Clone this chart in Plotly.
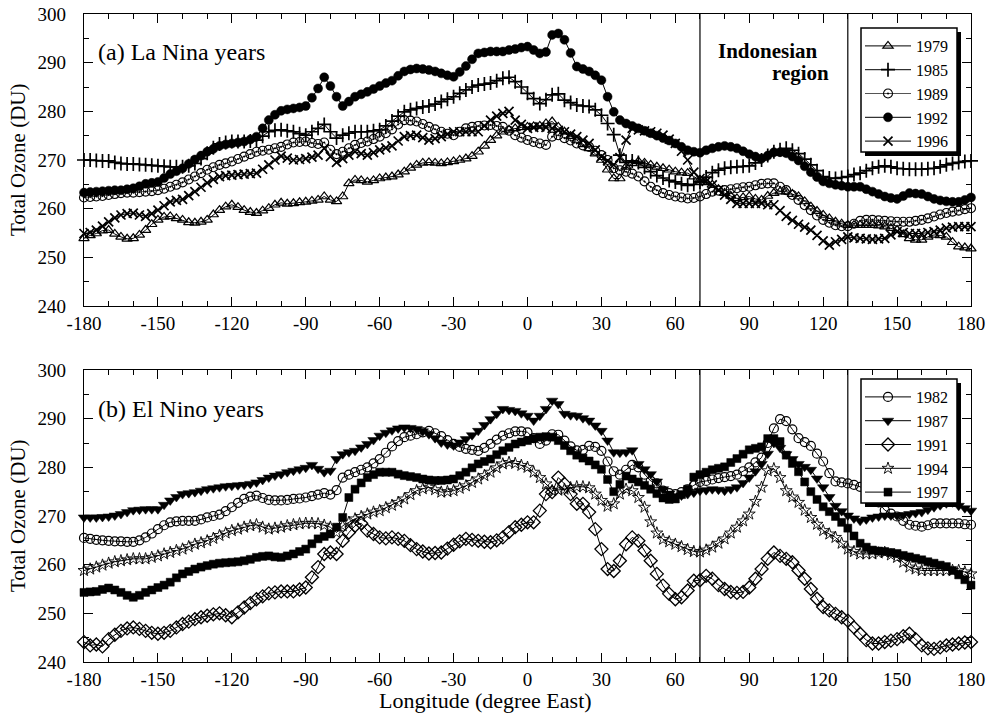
import plotly.graph_objects as go

# ---------------- data (Total ozone, DU) ----------------
LON_START = -180.0
LON_STEP = 2.5
N_PTS = 145
lon = [LON_START + LON_STEP * i for i in range(N_PTS)]

x_tick_vals = [-180, -150, -120, -90, -60, -30, 0, 30, 60, 90, 120, 150, 180]
x_tick_text = ["-180", "-150", "-120", "-90", "-60", "-30", "0", "30", "60", "90", "120", "150", "180"]
y_tick_vals = [240, 250, 260, 270, 280, 290, 300]
y_tick_text = ["240", "250", "260", "270", "280", "290", "300"]

# (a) La Nina years
y1979 = [253.9, 254.5, 254.9, 255.5, 255.6, 254.8, 254.2, 253.8, 253.9, 254.6, 255.6, 256.8,
         257.7, 258.3, 258.4, 258.0, 257.7, 257.2, 257.1, 257.3, 257.7, 258.8, 259.7, 260.4,
         260.8, 260.3, 259.7, 259.3, 259.1, 259.6, 260.1, 260.8, 261.2, 261.0, 261.1, 261.3,
         261.4, 261.6, 261.8, 262.5, 261.8, 261.5, 262.5, 265.2, 265.9, 265.8, 265.5, 265.8,
         266.2, 266.4, 266.6, 267.0, 267.6, 268.4, 269.0, 269.4, 269.5, 269.4, 269.3, 269.5,
         269.7, 270.0, 270.3, 270.8, 271.7, 272.9, 274.1, 275.0, 275.8, 276.2, 276.5, 276.7,
         276.8, 276.9, 277.0, 277.5, 277.9, 276.8, 275.8, 274.9, 274.1, 273.2, 272.4, 271.3,
         270.0, 268.0, 266.2, 266.2, 268.6, 269.3, 269.7, 269.4, 269.0, 268.6, 268.3, 268.0,
         267.6, 267.4, 267.3, 266.6, 265.9, 265.4, 264.9, 264.0, 263.2, 262.6, 262.1, 262.3,
         262.5, 262.0, 261.8, 262.6, 263.2, 263.5, 263.5, 263.0, 262.5, 261.5, 260.4, 259.5,
         258.7, 258.0, 257.3, 256.9, 256.6, 256.6, 256.6, 256.6, 256.6, 256.5, 256.3, 256.0,
         255.6, 254.7, 253.9, 253.6, 253.6, 254.2, 254.6, 254.5, 254.2, 253.1, 252.2, 252.0,
         251.8]
y1985 = [270.0, 270.0, 269.9, 269.8, 269.8, 269.5, 269.3, 269.2, 269.2, 269.1, 269.0, 268.9,
         268.8, 268.7, 268.6, 268.6, 268.6, 268.8, 269.3, 270.3, 271.4, 272.5, 273.3, 273.6,
         273.8, 273.8, 273.8, 273.9, 274.1, 274.9, 275.8, 276.1, 276.2, 276.0, 275.8, 275.4,
         275.1, 275.8, 276.5, 277.3, 275.8, 274.5, 275.1, 275.5, 275.8, 275.8, 275.8, 276.0,
         276.2, 277.0, 278.0, 279.0, 279.9, 280.3, 280.6, 280.9, 281.1, 281.5, 282.0, 282.5,
         283.0, 283.7, 284.4, 285.0, 285.4, 285.6, 285.8, 286.3, 286.8, 287.0, 286.1, 285.0,
         283.7, 282.6, 281.6, 282.4, 283.4, 283.6, 282.3, 281.8, 281.3, 281.1, 281.0, 280.3,
         279.2, 277.5, 275.2, 271.0, 269.5, 269.8, 269.5, 268.5, 267.6, 266.8, 266.3, 265.8,
         265.5, 265.1, 264.8, 265.0, 265.5, 266.5, 267.4, 267.9, 268.3, 268.5, 268.6, 268.7,
         268.8, 269.4, 270.0, 270.9, 271.7, 272.1, 272.4, 272.0, 271.3, 270.2, 269.0, 267.8,
         266.6, 266.3, 266.2, 266.4, 266.6, 267.0, 267.3, 267.8, 268.3, 268.6, 268.8, 268.6,
         268.3, 268.2, 268.1, 268.1, 268.1, 268.2, 268.3, 268.6, 269.0, 269.3, 269.5, 269.7,
         269.8]
y1989 = [262.3, 262.4, 262.5, 262.6, 262.8, 263.0, 263.2, 263.3, 263.3, 263.4, 263.5, 263.6,
         263.8, 264.1, 264.5, 264.9, 265.4, 266.0, 266.6, 267.3, 268.0, 268.5, 269.0, 269.3,
         269.7, 270.2, 270.7, 271.2, 271.7, 271.9, 272.1, 272.4, 272.7, 273.2, 273.6, 273.7,
         273.8, 273.5, 273.3, 273.6, 272.1, 271.2, 271.7, 272.4, 273.1, 273.5, 273.8, 274.3,
         274.8, 275.5, 276.3, 277.3, 278.2, 278.1, 277.9, 277.4, 276.8, 276.3, 275.8, 275.4,
         275.1, 275.8, 276.5, 276.8, 277.0, 277.1, 277.2, 277.0, 276.8, 276.0, 275.1, 274.6,
         274.1, 273.7, 273.4, 273.1, 274.8, 275.1, 274.5, 274.0, 273.4, 273.0, 272.7, 271.9,
         271.0, 270.0, 268.3, 267.9, 267.6, 267.2, 266.6, 265.6, 264.5, 263.8, 263.2, 262.8,
         262.5, 262.3, 262.1, 262.2, 262.5, 263.0, 263.5, 263.7, 263.8, 264.0, 264.2, 264.4,
         264.5, 264.8, 265.1, 265.2, 265.2, 264.5, 263.8, 262.8, 261.8, 260.7, 259.7, 258.6,
         257.7, 257.1, 256.6, 256.4, 256.4, 256.9, 257.5, 257.7, 257.7, 257.6, 257.5, 257.4,
         257.3, 257.3, 257.3, 257.5, 257.7, 258.0, 258.4, 258.8, 259.1, 259.4, 259.6, 259.9,
         260.1]
y1992 = [263.3, 263.4, 263.5, 263.6, 263.7, 263.8, 263.8, 264.0, 264.2, 264.6, 265.1, 265.3,
         265.5, 266.3, 267.1, 267.7, 268.3, 269.2, 270.1, 270.9, 271.7, 272.3, 272.9, 273.2,
         273.4, 273.6, 273.8, 274.2, 274.8, 276.5, 278.2, 279.3, 280.1, 280.4, 280.6, 280.8,
         281.1, 282.8, 284.7, 287.0, 285.2, 283.0, 281.1, 282.0, 283.0, 283.5, 284.0, 284.6,
         285.2, 285.8, 286.3, 287.3, 288.2, 288.6, 288.8, 288.7, 288.5, 288.2, 287.8, 287.4,
         287.1, 288.1, 289.3, 290.7, 291.9, 292.1, 292.3, 292.3, 292.3, 292.6, 292.8, 293.1,
         293.3, 292.6, 291.9, 292.2, 295.7, 296.0, 294.7, 292.0, 289.2, 288.7, 288.2, 287.4,
         286.4, 283.0, 279.9, 278.2, 277.5, 277.0, 276.5, 276.0, 275.5, 275.0, 274.5, 274.0,
         273.4, 272.7, 272.0, 271.7, 271.5, 272.0, 272.4, 272.7, 272.9, 272.7, 272.4, 271.8,
         271.2, 270.7, 270.3, 270.9, 271.6, 271.6, 271.4, 270.7, 269.9, 268.7, 267.5, 266.5,
         265.6, 265.2, 264.9, 264.7, 264.5, 264.5, 264.5, 264.0, 263.5, 263.0, 262.5, 262.2,
         262.0, 262.6, 263.2, 263.1, 263.0, 262.5, 262.0, 261.7, 261.5, 261.4, 261.4, 261.8,
         262.3]
y1996 = [254.9, 255.1, 255.6, 256.4, 257.3, 258.1, 258.7, 259.0, 259.1, 258.7, 258.4, 259.0,
         259.7, 260.6, 261.4, 261.7, 261.9, 262.7, 263.5, 264.4, 265.3, 266.0, 266.6, 266.8,
         266.9, 267.0, 267.1, 267.2, 267.3, 268.1, 269.0, 270.0, 270.8, 270.4, 270.0, 270.1,
         270.3, 270.6, 271.0, 272.4, 270.7, 269.5, 270.3, 271.0, 271.7, 271.3, 271.0, 271.5,
         272.1, 272.5, 272.9, 273.9, 274.8, 275.0, 275.1, 274.6, 274.1, 274.4, 274.8, 275.3,
         275.8, 275.8, 275.8, 275.8, 275.8, 277.0, 278.2, 279.0, 279.6, 280.0, 278.2, 277.3,
         276.5, 276.7, 276.8, 276.7, 276.5, 276.1, 275.8, 275.3, 274.8, 274.1, 273.4, 272.1,
         270.7, 269.8, 269.0, 270.5, 274.1, 276.5, 276.2, 276.0, 275.8, 275.5, 275.1, 274.3,
         273.4, 271.8, 270.0, 267.5, 266.2, 265.6, 264.9, 263.8, 262.8, 261.9, 261.1, 261.1,
         261.1, 261.1, 261.1, 260.8, 260.8, 259.6, 258.4, 257.6, 256.8, 256.2, 255.6, 254.5,
         253.4, 252.5, 253.2, 253.7, 254.2, 254.0, 253.9, 253.8, 253.7, 253.8, 253.9, 254.6,
         255.3, 255.1, 254.9, 254.9, 254.9, 255.1, 255.3, 255.6, 256.0, 256.2, 256.3, 256.3,
         256.3]

# (b) El Nino years
y1982 = [265.5, 265.3, 265.1, 265.0, 264.9, 264.8, 264.8, 264.7, 264.7, 265.0, 265.6, 266.4,
         267.3, 268.1, 268.7, 268.9, 269.0, 269.0, 269.0, 269.3, 269.7, 270.0, 270.3, 271.0,
         271.8, 272.7, 273.5, 274.0, 274.2, 273.7, 273.3, 273.2, 273.2, 273.3, 273.5, 273.6,
         273.8, 274.1, 274.4, 274.7, 274.4, 275.3, 277.9, 278.5, 279.0, 279.5, 280.0, 280.8,
         281.7, 283.0, 284.3, 285.4, 286.2, 286.5, 286.8, 287.2, 287.5, 287.0, 286.4, 285.6,
         284.8, 284.2, 283.8, 283.6, 283.4, 284.0, 284.8, 285.7, 286.5, 287.0, 287.4, 287.4,
         287.2, 286.0, 284.8, 285.5, 286.8, 286.7, 285.5, 284.3, 283.5, 283.6, 284.4, 284.2,
         283.4, 281.2, 279.2, 278.5, 279.5, 280.5, 280.0, 278.5, 277.2, 276.7, 275.2, 274.7,
         274.5, 274.9, 275.5, 276.3, 277.0, 277.2, 277.5, 277.8, 278.0, 278.2, 278.5, 279.2,
         280.0, 281.0, 282.0, 285.0, 288.0, 289.9, 289.5, 287.8, 286.0, 285.2, 284.4, 282.8,
         281.2, 278.8, 277.1, 276.9, 276.7, 276.4, 276.0, 275.2, 274.3, 272.8, 271.2, 270.5,
         269.9, 269.0, 268.2, 268.0, 267.8, 268.1, 268.5, 268.5, 268.5, 268.5, 268.5, 268.3,
         268.2]
y1987 = [269.7, 269.7, 269.7, 269.8, 269.9, 270.1, 270.4, 270.8, 271.2, 271.3, 271.4, 271.4,
         271.4, 272.3, 273.2, 273.9, 274.5, 274.7, 274.9, 275.2, 275.5, 275.7, 275.9, 276.1,
         276.2, 276.3, 276.4, 276.6, 276.9, 277.4, 277.9, 278.3, 278.6, 279.0, 279.3, 279.6,
         279.9, 280.5, 279.7, 279.0, 279.3, 281.7, 282.7, 283.1, 283.4, 284.1, 284.8, 285.6,
         286.5, 287.1, 287.6, 288.0, 288.2, 288.1, 287.9, 287.4, 286.8, 286.0, 285.1, 284.7,
         284.5, 285.1, 285.8, 286.6, 287.5, 288.7, 289.9, 291.0, 292.0, 291.8, 291.6, 291.1,
         290.6, 289.6, 290.6, 292.0, 293.7, 293.0, 291.0, 290.7, 290.6, 290.1, 289.6, 288.6,
         287.5, 285.5, 283.1, 283.0, 283.1, 283.5, 280.7, 279.6, 278.6, 277.1, 275.5, 274.6,
         274.0, 274.2, 274.5, 274.8, 275.2, 275.3, 275.5, 275.4, 275.2, 275.5, 275.9, 276.8,
         277.9, 279.2, 280.7, 282.8, 285.0, 284.0, 282.7, 281.7, 280.7, 280.1, 279.5, 277.7,
         275.9, 273.9, 272.1, 271.0, 270.1, 269.5, 269.0, 269.3, 269.7, 269.9, 270.1, 270.1,
         270.1, 270.2, 270.4, 270.6, 270.8, 271.3, 271.8, 272.2, 272.6, 272.8, 272.1, 271.6,
         271.1]
y1991 = [244.1, 243.4, 243.6, 243.2, 244.7, 245.6, 246.4, 246.9, 247.1, 246.8, 246.4, 246.0,
         245.8, 246.0, 246.4, 247.1, 247.8, 248.3, 248.8, 249.2, 249.5, 249.8, 250.0, 249.6,
         249.2, 250.2, 251.2, 252.1, 252.9, 253.5, 254.1, 254.3, 254.5, 254.5, 254.5, 254.9,
         255.3, 257.4, 259.5, 262.2, 262.5, 262.2, 264.9, 266.6, 268.0, 268.5, 267.0, 266.3,
         265.6, 265.4, 265.6, 265.3, 264.9, 264.0, 263.2, 262.7, 262.3, 262.4, 262.5, 263.3,
         264.1, 264.8, 265.3, 265.1, 264.9, 264.7, 264.6, 265.0, 265.6, 266.7, 267.7, 268.2,
         268.7, 268.7, 271.1, 274.5, 274.9, 277.9, 276.6, 274.5, 272.5, 272.5, 270.8, 267.3,
         263.2, 259.1, 258.7, 260.8, 264.2, 265.6, 264.9, 262.9, 260.8, 258.1, 255.7, 254.0,
         252.9, 253.3, 254.7, 256.7, 256.8, 257.7, 257.1, 255.8, 255.0, 254.4, 254.2, 254.4,
         255.3, 257.1, 259.1, 261.2, 262.5, 261.8, 261.2, 260.5, 258.8, 257.1, 255.0, 253.0,
         251.3, 250.6, 249.9, 249.2, 248.5, 247.1, 245.8, 244.5, 243.8, 243.8, 244.1, 244.4,
         244.7, 245.3, 245.8, 244.7, 243.4, 242.8, 242.7, 243.0, 243.4, 243.6, 243.8, 244.0,
         244.1]
y1994 = [258.8, 259.1, 259.5, 259.9, 260.3, 260.6, 260.8, 261.0, 261.2, 261.2, 261.2, 261.5,
         261.8, 262.2, 262.5, 262.9, 263.2, 263.7, 264.2, 264.5, 264.9, 265.4, 266.0, 266.5,
         267.0, 267.3, 267.7, 268.0, 268.2, 267.7, 267.3, 267.5, 267.7, 268.0, 268.2, 268.4,
         268.5, 268.5, 268.4, 268.1, 267.7, 266.6, 268.0, 268.7, 269.4, 269.9, 270.4, 270.8,
         271.1, 271.7, 272.2, 272.8, 273.5, 274.4, 275.2, 275.6, 275.9, 275.4, 274.9, 275.0,
         275.2, 275.7, 276.2, 276.9, 277.6, 278.3, 279.0, 279.9, 280.7, 281.0, 280.8, 280.4,
         280.0, 279.0, 277.9, 276.6, 275.2, 275.3, 275.5, 275.8, 276.0, 276.0, 275.8, 274.5,
         273.2, 272.0, 272.5, 274.5, 275.5, 275.2, 273.8, 271.8, 268.8, 266.5, 265.2, 264.7,
         264.2, 263.7, 263.1, 262.7, 262.6, 263.0, 263.6, 264.4, 265.3, 266.5, 267.7, 269.0,
         270.4, 273.0, 275.9, 279.3, 279.7, 277.9, 275.2, 273.9, 272.8, 271.2, 269.7, 268.3,
         267.0, 266.3, 265.6, 264.4, 263.2, 262.7, 262.2, 262.2, 262.2, 262.4, 262.5, 262.0,
         261.5, 260.5, 259.5, 259.1, 258.8, 258.8, 258.8, 258.8, 258.8, 258.8, 258.8, 258.5,
         258.1]
y1997 = [254.3, 254.4, 254.5, 254.9, 255.2, 254.8, 254.3, 253.7, 253.3, 253.7, 254.3, 254.8,
         255.3, 255.8, 256.4, 257.3, 258.1, 258.6, 259.1, 259.5, 259.8, 260.1, 260.3, 260.4,
         260.5, 260.6, 260.8, 261.1, 261.5, 261.7, 261.8, 261.6, 261.5, 261.8, 262.2, 262.7,
         263.2, 264.3, 265.3, 265.8, 266.3, 267.7, 269.7, 273.8, 275.5, 276.8, 277.9, 278.5,
         279.0, 279.0, 279.0, 278.6, 278.3, 278.1, 277.9, 277.6, 277.4, 277.3, 277.3, 277.4,
         277.6, 278.3, 279.0, 279.9, 280.7, 281.2, 281.7, 282.6, 283.4, 284.1, 284.8, 285.2,
         285.5, 285.9, 286.2, 286.3, 286.2, 285.5, 284.5, 283.4, 282.5, 281.9, 281.3, 280.5,
         279.6, 277.5, 275.0, 276.5, 278.2, 277.6, 277.0, 276.3, 275.5, 274.6, 273.7, 273.4,
         273.5, 274.4, 275.5, 278.0, 278.5, 279.0, 279.5, 279.8, 280.1, 281.0, 281.8, 282.7,
         283.6, 283.9, 284.2, 285.9, 285.9, 285.3, 282.5, 280.8, 279.1, 277.0, 275.0, 273.4,
         271.9, 270.9, 269.9, 268.7, 267.5, 265.9, 264.4, 263.6, 263.0, 262.8, 262.7, 262.5,
         262.3, 261.9, 261.6, 261.3, 261.0, 260.6, 260.3, 259.9, 259.6, 258.8, 257.9, 256.9,
         255.8]

indonesia_bounds = [70, 130]

# ---------------- figure ----------------
W, H = 994, 715
ML, MR, MT, MB = 84, 23, 14, 53
PW, PH = W - ML - MR, H - MT - MB


def px_x(px):
    return (px - ML) / PW


def px_y(py):
    return (H - MB - py) / PH


FONT = "Liberation Serif"
fig = go.Figure()

top_series = [
    ("1979", y1979, "triangle-up-open", 9, 1.2),
    ("1985", y1985, "cross-thin-open", 10, 1.7),
    ("1989", y1989, "circle-open-dot", 9, 1.1),
    ("1992", y1992, "circle", 9, 0.5),
    ("1996", y1996, "x-thin-open", 9, 1.7),
]
bot_series = [
    ("1982", y1982, "circle-open", 9, 1.2),
    ("1987", y1987, "triangle-down", 10, 0.5),
    ("1991", y1991, "diamond-open", 10, 1.3),
    ("1994", y1994, "star-open", 9, 0.9),
    ("1997", y1997, "square", 8, 0.5),
]

for name, ys, sym, size, lw in top_series:
    line_col = "#555555" if name == "1989" else "black"
    fig.add_trace(go.Scatter(
        x=lon, y=ys, name=name, mode="lines+markers", xaxis="x", yaxis="y",
        legend="legend", cliponaxis=False,
        line=dict(color=line_col, width=1),
        marker=dict(symbol=sym, size=size, color="black", line=dict(color="black", width=lw)),
    ))
for name, ys, sym, size, lw in bot_series:
    fig.add_trace(go.Scatter(
        x=lon, y=ys, name=name, mode="lines+markers", xaxis="x2", yaxis="y2",
        legend="legend2", cliponaxis=False,
        line=dict(color="black", width=1),
        marker=dict(symbol=sym, size=size, color="black", line=dict(color="black", width=lw)),
    ))

tickfont = dict(family=FONT, size=19, color="black")
xaxis_common = dict(
    range=[-180, 180], tickvals=x_tick_vals, ticktext=x_tick_text, automargin=False,
    showline=True, linecolor="black", linewidth=1.4, mirror="allticks",
    ticks="inside", ticklen=9, tickwidth=1.2, tickcolor="black",
    minor=dict(tick0=-180, dtick=10, ticks="inside", ticklen=5, tickwidth=1, tickcolor="black"),
    showgrid=False, zeroline=False, tickfont=tickfont, ticklabelstandoff=0,
)
yaxis_common = dict(
    range=[240, 300], tickvals=y_tick_vals, ticktext=y_tick_text, automargin=False,
    showline=True, linecolor="black", linewidth=1.4, mirror="allticks",
    ticks="inside", ticklen=9, tickwidth=1.2, tickcolor="black",
    minor=dict(tick0=240, dtick=5, ticks="inside", ticklen=5, tickwidth=1, tickcolor="black"),
    showgrid=False, zeroline=False, tickfont=tickfont, ticklabelstandoff=13,
)

top_dom = [px_y(306), 1.0]
bot_dom = [0.0, px_y(370)]

LEG_FONT = 16
legend_common = dict(
    bgcolor="rgba(0,0,0,0)", bordercolor="black", borderwidth=0,
    font=dict(family=FONT, size=LEG_FONT, color="black"),
    xanchor="left", yanchor="top", tracegroupgap=0, itemwidth=46,
)
LEG_L, LEG_R = 861, 957
LEG1_T, LEG2_T = 28, 379
LEG_H = 124

fig.update_layout(
    width=W, height=H, paper_bgcolor="white", plot_bgcolor="white",
    margin=dict(l=ML, r=MR, t=MT, b=MB, autoexpand=False),
    xaxis=dict(domain=[0, 1], anchor="y", **xaxis_common),
    yaxis=dict(domain=top_dom, anchor="x", **yaxis_common),
    xaxis2=dict(domain=[0, 1], anchor="y2", **xaxis_common),
    yaxis2=dict(domain=bot_dom, anchor="x2", **yaxis_common),
    legend=dict(x=px_x(LEG_L - 1), y=px_y(LEG1_T + 1), **legend_common),
    legend2=dict(x=px_x(LEG_L - 1), y=px_y(LEG2_T + 1), **legend_common),
    showlegend=True,
)

shapes = []
for xr, yr in (("x", "y domain"), ("x2", "y2 domain")):
    for b in indonesia_bounds:
        shapes.append(dict(type="line", xref=xr, yref=yr, x0=b, x1=b, y0=0, y1=1,
                           line=dict(color="black", width=1.2), layer="above"))
# legend frames with drop shadows
for top in (LEG1_T, LEG2_T):
    shapes.append(dict(type="rect", xref="paper", yref="paper",
                       x0=px_x(LEG_L + 4), x1=px_x(LEG_R + 4),
                       y0=px_y(top + LEG_H + 4), y1=px_y(top + 4),
                       fillcolor="black", line=dict(width=0), layer="above"))
    shapes.append(dict(type="rect", xref="paper", yref="paper",
                       x0=px_x(LEG_L), x1=px_x(LEG_R),
                       y0=px_y(top + LEG_H), y1=px_y(top),
                       fillcolor="white", line=dict(color="black", width=1.5), layer="above"))
fig.update_layout(shapes=shapes)

ann = [
    dict(text="(a) La Nina years", xref="paper", yref="paper", x=px_x(96), y=px_y(52),
         xanchor="left", yanchor="middle", showarrow=False,
         font=dict(family=FONT, size=24, color="black")),
    dict(text="(b) El Nino years", xref="paper", yref="paper", x=px_x(96), y=px_y(409),
         xanchor="left", yanchor="middle", showarrow=False,
         font=dict(family=FONT, size=24, color="black")),
    dict(text="<b>Indonesian</b>", xref="paper", yref="paper", x=px_x(768), y=px_y(51),
         xanchor="center", yanchor="middle", showarrow=False,
         font=dict(family=FONT, size=21, color="black")),
    dict(text="<b>region</b>", xref="paper", yref="paper", x=px_x(800), y=px_y(73),
         xanchor="center", yanchor="middle", showarrow=False,
         font=dict(family=FONT, size=21, color="black")),
    dict(text="Total Ozone (DU)", xref="paper", yref="paper", x=px_x(18), y=px_y(160),
         xanchor="center", yanchor="middle", textangle=-90, showarrow=False,
         font=dict(family=FONT, size=21, color="black")),
    dict(text="Total Ozone (DU)", xref="paper", yref="paper", x=px_x(18), y=px_y(516),
         xanchor="center", yanchor="middle", textangle=-90, showarrow=False,
         font=dict(family=FONT, size=21, color="black")),
    dict(text="Longitude (degree East)", xref="paper", yref="paper", x=px_x(485), y=px_y(700),
         xanchor="center", yanchor="middle", showarrow=False,
         font=dict(family=FONT, size=22, color="black")),
]
fig.update_layout(annotations=ann)

fig.write_html("out.html", config={"displayModeBar": False},
               post_script="document.body.style.margin='0px';")
